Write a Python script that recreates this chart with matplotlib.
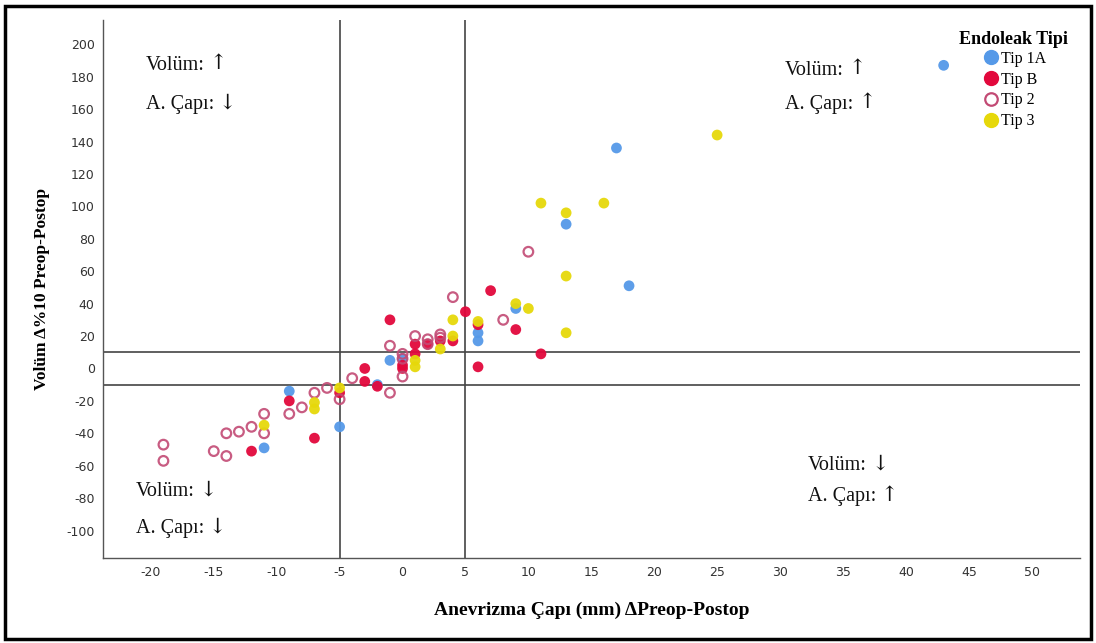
import matplotlib
matplotlib.use("Agg")
import matplotlib.pyplot as plt
from matplotlib.patches import Rectangle
from matplotlib.lines import Line2D
from matplotlib.transforms import offset_copy

plt.rcParams["axes.unicode_minus"] = False

# ---- data ----
tip1a_x = [43, 17, 13, 18, 6, 6, 9, -1, 0, -2, -9, -11, -5]
tip1a_y = [187, 136, 89, 51, 22, 17, 37, 5, 6, -10, -14, -49, -36]

tipb_x = [7, 5, 6, 9, 11, 6, 4, -1, 1, 1, 2, 3, -3, -3, -2, 0, 0, -9, -12, -7, -5]
tipb_y = [48, 35, 27, 24, 9, 1, 17, 30, 15, 9, 15, 17, 0, -8, -11, 2, 0, -20, -51, -43, -15]

tip2_x = [-19, -19, -15, -14, -14, -13, -12, -11, -11, -9, -8, -7, -6, -5, -4,
          -1, -1, 0, 0, 0, 1, 2, 2, 3, 3, 4, 8, 10]
tip2_y = [-47, -57, -51, -54, -40, -39, -36, -40, -28, -28, -24, -15, -12, -19, -6,
          14, -15, 9, 6, -5, 20, 18, 15, 21, 19, 44, 30, 72]

tip3_x = [25, 11, 16, 13, 13, 13, 9, 10, 6, 4, 4, 3, 1, 1, -5, -7, -7, -11]
tip3_y = [144, 102, 102, 96, 57, 22, 40, 37, 29, 30, 20, 12, 5, 1, -12, -21, -25, -35]

series_labels = ["Tip 1A", "Tip B", "Tip 2", "Tip 3"]
x_ticks = [-20, -15, -10, -5, 0, 5, 10, 15, 20, 25, 30, 35, 40, 45, 50]
y_ticks = list(range(-100, 201, 20))
ref_x = [-5, 5]
ref_y = [-10, 10]

BLUE = "#5599E8"
RED = "#E2083C"
PINK = "#C24A74"
YELLOW = "#E6D80A"
SERIF = ["Liberation Serif", "DejaVu Serif"]

fig = plt.figure(figsize=(10.96, 6.43), dpi=100)
ax = fig.add_axes([0.094, 0.132, 0.891, 0.837])

for v in ref_x:
    ax.axvline(v, color="#444444", lw=1.2, zorder=1)
for v in ref_y:
    ax.axhline(v, color="#444444", lw=1.2, zorder=1)

ms = 60
ax.scatter(tip1a_x, tip1a_y, s=ms, color=BLUE, edgecolors="none", zorder=3, alpha=0.95)
ax.scatter(tipb_x, tipb_y, s=ms, color=RED, edgecolors="none", zorder=3, alpha=0.95)
ax.scatter(tip2_x, tip2_y, s=48, facecolors="none", edgecolors=PINK, linewidths=1.6, zorder=4, alpha=0.9)
ax.scatter(tip3_x, tip3_y, s=ms, color=YELLOW, edgecolors="none", zorder=5, alpha=0.95)

ax.set_xlim(-23.8, 53.8)
ax.set_ylim(-117, 215)
ax.set_xticks(x_ticks)
ax.set_yticks(y_ticks)
ax.tick_params(length=0, labelsize=9, colors="#333333", pad=6)
for s in ["top", "right"]:
    ax.spines[s].set_visible(False)
for s in ["left", "bottom"]:
    ax.spines[s].set_color("#555555")
    ax.spines[s].set_linewidth(1.0)

ax.set_xlabel("Anevrizma Çapı (mm) ΔPreop-Postop", family=SERIF, fontsize=14,
              fontweight="bold", labelpad=16)
ax.set_ylabel("Volüm Δ%10 Preop-Postop", family=SERIF, fontsize=12.5,
              fontweight="bold", labelpad=12)

renderer = fig.canvas.get_renderer()


def quad_text(x, y, label, arrow):
    t = ax.text(x, y, label, va="center", family=SERIF, fontsize=14.5,
                color="#111111", zorder=6)
    w = t.get_window_extent(renderer=renderer).width
    tr = offset_copy(ax.transData, fig=fig, x=w * 72 / fig.dpi + 3.5, y=1, units="points")
    ax.text(x, y, arrow, va="center", ha="left", family=["DejaVu Serif"], fontsize=15,
            color="#111111", transform=tr, zorder=6)


quad_text(-20.4, 187, "Volüm:", "↑")
quad_text(-20.4, 163, "A. Çapı:", "↓")
quad_text(30.4, 184, "Volüm:", "↑")
quad_text(30.4, 163, "A. Çapı:", "↑")
quad_text(32.2, -60, "Volüm:", "↓")
quad_text(32.2, -79, "A. Çapı:", "↑")
quad_text(-21.2, -76, "Volüm:", "↓")
quad_text(-21.2, -99, "A. Çapı:", "↓")

handles = [
    Line2D([], [], ls="none", marker="o", markersize=10, markerfacecolor=BLUE, markeredgecolor=BLUE),
    Line2D([], [], ls="none", marker="o", markersize=10, markerfacecolor=RED, markeredgecolor=RED),
    Line2D([], [], ls="none", marker="o", markersize=9, markerfacecolor="white", markeredgecolor=PINK, markeredgewidth=1.6),
    Line2D([], [], ls="none", marker="o", markersize=10, markerfacecolor=YELLOW, markeredgecolor=YELLOW),
]
leg = ax.legend(handles, series_labels, loc="upper right", bbox_to_anchor=(1.0, 1.0),
                frameon=False, title="Endoleak Tipi", handletextpad=0.0,
                labelspacing=0.3, prop={"family": SERIF, "size": 11.5},
                handlelength=1.2, borderaxespad=0.3)
leg.get_title().set_fontproperties({"family": SERIF, "size": 13, "weight": "bold"})
leg._legend_box.sep = 2

# outer frame
fig.patches.append(Rectangle((0.005, 0.006), 0.99, 0.984, transform=fig.transFigure,
                             fill=False, edgecolor="black", lw=2.5, zorder=10))

fig.savefig("out.png", dpi=100)
